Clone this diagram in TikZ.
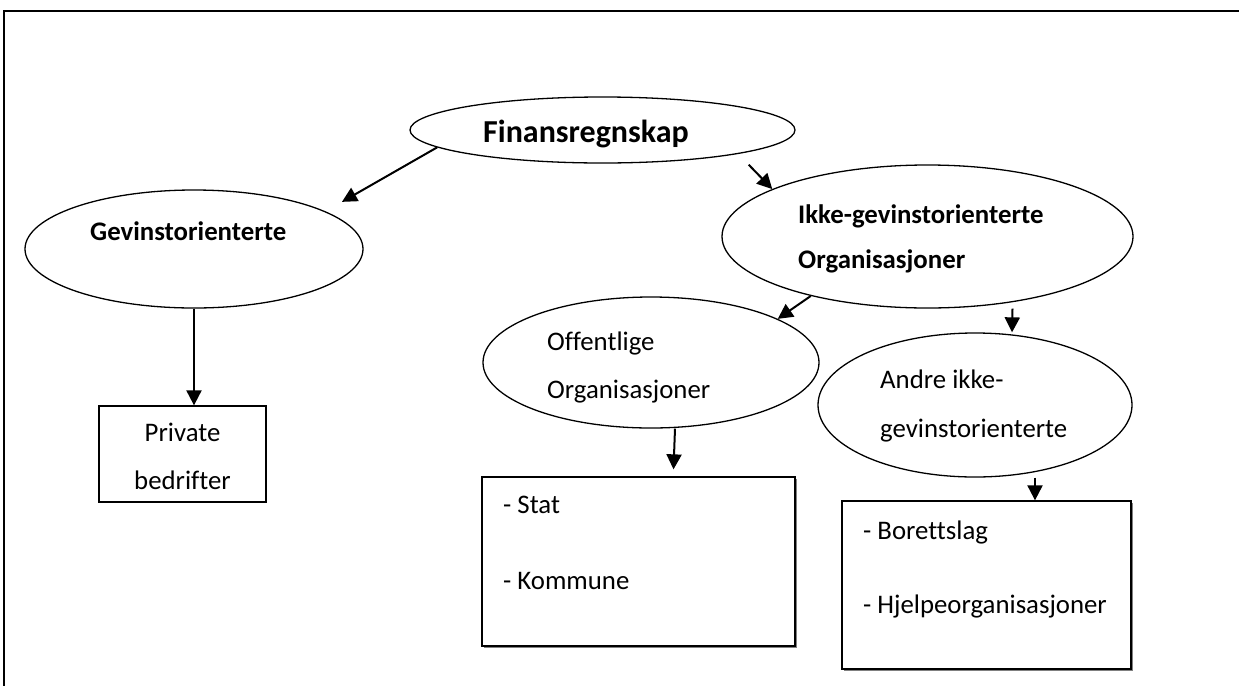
\documentclass[tikz,border=0pt]{standalone}
\usepackage{fontspec}
\setmainfont{Carlito}[Ligatures={NoCommon}]
\usetikzlibrary{shapes.geometric,arrows.meta,shadows}

\begin{document}
\begin{tikzpicture}[x=1pt,y=-1pt,
  oval/.style={draw,ellipse,line width=1.3pt,inner sep=0pt},
  box/.style={draw,rectangle,line width=1.3pt,inner sep=0pt,fill=white},
  shadowed/.style={drop shadow={shadow xshift=1.5pt,shadow yshift=-1.5pt,fill=black!50,opacity=1}},
  txt/.style={anchor=base west,inner sep=0pt,font=\fontsize{26.8}{32}\selectfont},
  btxt/.style={anchor=base west,inner sep=0pt,font=\fontsize{26.8}{32}\selectfont\bfseries},
  arr/.style={line width=2pt,-{Triangle[length=15pt,width=15pt]}}]
  \useasboundingbox (0,0) rectangle (1239,686);
  \draw [line width=2pt] (1239,11) -- (4,11) -- (4,686);

  \node [oval,minimum width=385pt,minimum height=66pt] (fin) at (602.5,130) {};
  \node [oval,minimum width=338pt,minimum height=118pt] (gev) at (194,249) {};
  \node [oval,minimum width=411pt,minimum height=143pt] (ikke) at (927.5,236.5) {};
  \node [oval,minimum width=336pt,minimum height=131pt] (off) at (651,362.5) {};
  \node [oval,minimum width=314pt,minimum height=144pt] (andre) at (975,405) {};
  \node [box,minimum width=167pt,minimum height=96pt] (priv) at (182.5,454) {};
  \node [box,shadowed,minimum width=313pt,minimum height=169pt] (stat) at (638.5,561.5) {};
  \node [box,shadowed,minimum width=289pt,minimum height=168pt] (bor) at (986.5,585) {};

  \node [btxt,font=\fontsize{32}{38}\selectfont\bfseries] (fintxt) at (483,142) {Finansregnskap};
  \node [btxt] (gevtxt) at (90,240.5) {Gevinstorienterte};
  \node [btxt] (ikketxt1) at (798,223) {Ikke-gevinstorienterte};
  \node [btxt] (ikketxt2) at (798,268) {Organisasjoner};
  \node [txt] (offtxt1) at (547,350) {Offentlige};
  \node [txt] (offtxt2) at (547,398) {Organisasjoner};
  \node [txt] (andretxt1) at (880,388) {Andre ikke-};
  \node [txt] (andretxt2) at (880,437) {gevinstorienterte};
  \node [txt,anchor=base] (privtxt1) at (182.5,441.5) {Private};
  \node [txt,anchor=base] (privtxt2) at (182.5,489) {bedrifter};
  \node [txt] (stattxt1) at (503,513) {- Stat};
  \node [txt] (stattxt2) at (503,589) {- Kommune};
  \node [txt] (bortxt1) at (863,539) {- Borettslag};
  \node [txt] (bortxt2) at (863,613) {- Hjelpeorganisasjoner};

  \draw [arr,shorten >=19pt] (fin.186) -- (gev.16);
  \draw [arr,shorten <=15pt] (fin.350) -- (ikke.163);
  \draw [arr] (gev.south) -- (gev.south |- priv.north);
  \draw [arr] (ikke.207) -- (off.19);
  \draw [arr] ([xshift=85pt]ikke.south) -- ([xshift=37pt]andre.north);
  \draw [arr] ([xshift=24pt]off.south) -- ([xshift=35pt,yshift=7pt]stat.north);
  \draw [arr] ([xshift=60pt]andre.south) -- ([xshift=48.5pt]bor.north);
\end{tikzpicture}
\end{document}
